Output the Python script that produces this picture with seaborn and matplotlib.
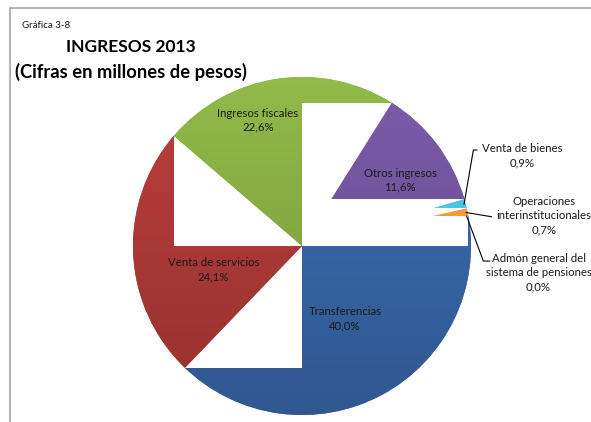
import matplotlib
matplotlib.use("Agg")
import matplotlib.pyplot as plt
from matplotlib.colors import to_rgb
from matplotlib.lines import Line2D
from matplotlib.patches import Rectangle
import numpy as np
import seaborn as sns

# datos
categorias = [
    "Transferencias",
    "Venta de servicios",
    "Ingresos fiscales",
    "Otros ingresos",
    "Venta de bienes",
    "Operaciones\ninterinstitucionales",
    "Admón general del\nsistema de pensiones",
]
porcentajes = [40.0, 24.1, 22.6, 11.6, 0.9, 0.7, 0.0]

colores = ["#3866A8", "#AE3A37", "#87AD43", "#73559E",
           "#4CC6E6", "#F59B3E", "#9BBB59"]

# posiciones de etiquetas (coordenadas del eje, radio = 1)
pos_internas = [(0.255, -0.43), (-0.525, -0.14), (-0.26, 0.745), (0.58, 0.39)]
pos_externas = [(1.302, 0.535), (1.43, 0.178), (1.40, -0.157)]
codos = [[(1.014, 0.568), (1.036, 0.568)],
         [(1.122, 0.173)],
         [(1.073, -0.089), (1.112, -0.089)]]

sns.set_theme(style="white")
plt.rcParams["font.family"] = ["Lato", "DejaVu Sans"]

fig = plt.figure(figsize=(5.91, 4.22), dpi=100)
ax = fig.add_axes([(302 - 169) / 591, (422 - 246 - 169) / 422, 338 / 591, 338 / 422])

wedges, _ = ax.pie(
    porcentajes,
    colors=sns.color_palette(colores),
    startangle=10.3,
    counterclock=False,
    radius=1.0,
)

# cada sector se dibuja sobre un fondo blanco del tamano de su caja
for i, w in enumerate(wedges):
    caja = w.get_path().get_extents()
    ax.add_patch(Rectangle((caja.x0, caja.y0), caja.width, caja.height,
                           facecolor="white", edgecolor="none",
                           zorder=2 + 2 * i, clip_on=False))
    w.set_zorder(3 + 2 * i)
    w.set_edgecolor("none")
    w.set_clip_on(False)

    # sombreado vertical, mas claro arriba y mas oscuro abajo
    base = np.array(to_rgb(colores[i]))
    t = np.linspace(0, 1, 200)[:, None]
    grad = np.clip(base * (1.08 - 0.22 * t), 0, 1)[:, None, :]
    img = ax.imshow(grad, extent=(-1, 1, -1, 1), origin="upper",
                    aspect="auto", zorder=3.5 + 2 * i, interpolation="bilinear")
    img.set_clip_path(w)

ax.set_xlim(-1, 1)
ax.set_ylim(-1, 1)
ax.set_aspect("equal")


def texto_pct(v):
    return f"{v:.1f}".replace(".", ",") + "%"


for i, (x, y) in enumerate(pos_internas):
    ax.text(x, y, categorias[i] + "\n" + texto_pct(porcentajes[i]),
            ha="center", va="center", fontsize=8.2, color="#1A1A1A",
            linespacing=1.35, zorder=30)

for j, (x, y) in enumerate(pos_externas):
    i = 4 + j
    ax.text(x, y, categorias[i] + "\n" + texto_pct(porcentajes[i]),
            ha="center", va="center", fontsize=8.2, color="#1A1A1A",
            linespacing=1.35, zorder=30, multialignment="center")
    w = wedges[i]
    ang = (w.theta1 + w.theta2) / 2
    p0 = (np.cos(np.radians(ang)) * 0.99, np.sin(np.radians(ang)) * 0.99)
    xs = [p0[0]] + [p[0] for p in codos[j]]
    ys = [p0[1]] + [p[1] for p in codos[j]]
    ax.plot(xs, ys, color="black", lw=0.8, clip_on=False, zorder=31)

# titulo
fig.text(131 / 591, 1 - 47 / 422, "INGRESOS 2013", ha="center", va="center",
         fontsize=12.5, fontweight="bold", color="black")
fig.text(131 / 591, 1 - 72 / 422, "(Cifras en millones de pesos)", ha="center",
         va="center", fontsize=13.2, fontweight="bold", color="black")
fig.text(22 / 591, 1 - 25 / 422, "Gráfica 3-8", ha="left", va="center",
         fontsize=7, color="#1A1A1A")

# marco del grafico
fig.add_artist(Line2D([10 / 591, 1.0], [1 - 7.5 / 422] * 2, color="#A6A6A6", lw=1.2))
fig.add_artist(Line2D([10 / 591] * 2, [0, 1 - 7.5 / 422], color="#A6A6A6", lw=1.2))

fig.savefig("out.png", dpi=100, facecolor="white")
